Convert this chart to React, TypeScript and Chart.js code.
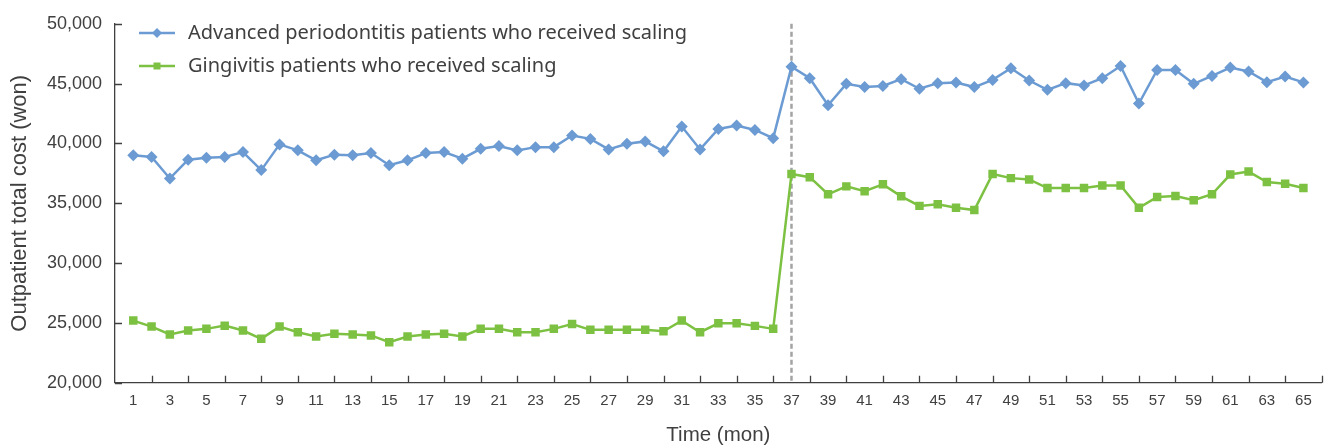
import React, { useEffect, useRef } from 'react';
import { Chart, registerables } from 'chart.js';

Chart.register(...registerables);

const months = [
  1, 2, 3, 4, 5, 6, 7, 8, 9, 10, 11, 12, 13, 14, 15, 16, 17, 18, 19, 20, 21, 22,
  23, 24, 25, 26, 27, 28, 29, 30, 31, 32, 33, 34, 35, 36, 37, 38, 39, 40, 41, 42,
  43, 44, 45, 46, 47, 48, 49, 50, 51, 52, 53, 54, 55, 56, 57, 58, 59, 60, 61, 62,
  63, 64, 65,
];

const periodontitisCost = [
  39010, 38870, 37070, 38640, 38810, 38870, 39280, 37770, 39920, 39420, 38590,
  39060, 39010, 39200, 38180, 38590, 39200, 39280, 38730, 39550, 39780, 39420,
  39690, 39690, 40660, 40380, 39500, 39970, 40170, 39340, 41410, 39500, 41210,
  41490, 41130, 40440, 46420, 45450, 43190, 44980, 44710, 44810, 45370, 44570,
  45040, 45100, 44710, 45310, 46280, 45260, 44480, 45040, 44850, 45450, 46470,
  43330, 46140, 46140, 44980, 45640, 46340, 46010, 45120, 45590, 45100,
];

const gingivitisCost = [
  25190, 24690, 24030, 24360, 24500, 24770, 24360, 23670, 24690, 24220, 23860,
  24090, 24030, 23950, 23390, 23860, 24030, 24090, 23860, 24500, 24500, 24220,
  24220, 24500, 24910, 24420, 24420, 24420, 24420, 24300, 25190, 24220, 24960,
  24960, 24750, 24500, 37450, 37180, 35750, 36410, 36000, 36580, 35580, 34780,
  34920, 34620, 34430, 37450, 37100, 36990, 36270, 36270, 36270, 36490, 36490,
  34620, 35530, 35610, 35250, 35750, 37400, 37650, 36770, 36630, 36270,
];

const seriesLabels = [
  'Advanced periodontitis patients who received scaling',
  'Gingivitis patients who received scaling',
];

const xAxisRange = [0, 66];
const yAxisRange = [20000, 50000];
const yStep = 5000;
const interventionMonth = 37;
const xTitle = 'Time (mon)';
const yTitle = 'Outpatient total cost (won)';

const BLUE = '#6b9bd2';
const GREEN = '#7dc142';
const AXIS = '#404040';
const TEXT = '#404040';
const SANS = '"Liberation Sans", Arial, sans-serif';
const PLOT_RIGHT_GAP = 2.3;

const decorPlugin = {
  id: 'decor',
  afterLayout(chart: any) {
    const x = chart.scales.x;
    const targetRight = chart.width - PLOT_RIGHT_GAP;
    x.right = targetRight;
    x.width = targetRight - x.left;
    x.configure();
    chart.chartArea.right = targetRight;
    chart.chartArea.width = targetRight - chart.chartArea.left;
  },
  beforeDatasetsDraw(chart: any) {
    const { ctx, chartArea, scales } = chart;
    const x = scales.x;
    const y = scales.y;
    ctx.save();
    const px = x.getPixelForValue(interventionMonth);
    ctx.strokeStyle = '#a3a3a3';
    ctx.lineWidth = 2.5;
    ctx.setLineDash([5, 3]);
    ctx.beginPath();
    ctx.moveTo(px, chartArea.top);
    ctx.lineTo(px, chartArea.bottom);
    ctx.stroke();
    ctx.setLineDash([]);
    ctx.strokeStyle = AXIS;
    ctx.lineWidth = 1.3;
    ctx.beginPath();
    for (let v = xAxisRange[0] + 2; v <= xAxisRange[1]; v += 2) {
      const tx = Math.round(x.getPixelForValue(v)) + 0.5;
      ctx.moveTo(tx, chartArea.bottom);
      ctx.lineTo(tx, chartArea.bottom - 7);
    }
    for (let v = yAxisRange[0]; v <= yAxisRange[1]; v += yStep) {
      const ty = Math.round(y.getPixelForValue(v)) + 0.5;
      ctx.moveTo(chartArea.left, ty);
      ctx.lineTo(chartArea.left + 7, ty);
    }
    ctx.stroke();
    ctx.restore();
  },
  afterDraw(chart: any) {
    const { ctx } = chart;
    ctx.save();
    const colors = [BLUE, GREEN];
    seriesLabels.forEach((label, i) => {
      const cy = 33 + i * 33;
      ctx.strokeStyle = colors[i];
      ctx.lineWidth = 2.5;
      ctx.beginPath();
      ctx.moveTo(139, cy);
      ctx.lineTo(175, cy);
      ctx.stroke();
      ctx.fillStyle = colors[i];
      ctx.beginPath();
      if (i === 0) {
        const r = 5;
        ctx.moveTo(157, cy - r);
        ctx.lineTo(157 + r, cy);
        ctx.lineTo(157, cy + r);
        ctx.lineTo(157 - r, cy);
        ctx.closePath();
      } else {
        ctx.rect(157 - 3.5, cy - 3.5, 7, 7);
      }
      ctx.fill();
      ctx.fillStyle = TEXT;
      ctx.font = '20px "Noto Sans", sans-serif';
      ctx.textBaseline = 'middle';
      ctx.textAlign = 'left';
      ctx.fillText(label, 188, cy);
    });
    ctx.restore();
  },
};

export default function App() {
  const canvasRef = useRef<HTMLCanvasElement | null>(null);

  useEffect(() => {
    document.body.style.margin = '0';
    const canvas = canvasRef.current;
    if (!canvas) return;
    const chart = new Chart(canvas, {
      type: 'line',
      data: {
        datasets: [
          {
            label: seriesLabels[0],
            data: months.map((m, i) => ({ x: m, y: periodontitisCost[i] })),
            borderColor: BLUE,
            backgroundColor: BLUE,
            borderWidth: 2.5,
            pointStyle: 'rectRot',
            pointRadius: 6,
            pointHoverRadius: 6,
            pointBorderWidth: 0,
            tension: 0,
          },
          {
            label: seriesLabels[1],
            data: months.map((m, i) => ({ x: m, y: gingivitisCost[i] })),
            borderColor: GREEN,
            backgroundColor: GREEN,
            borderWidth: 2.5,
            pointStyle: 'rect',
            pointRadius: 6,
            pointHoverRadius: 6,
            pointBorderWidth: 0,
            tension: 0,
          },
        ],
      },
      options: {
        animation: false,
        responsive: false,
        maintainAspectRatio: false,
        events: [],
        layout: { padding: { top: 20, right: PLOT_RIGHT_GAP, left: 0, bottom: 0 } },
        plugins: {
          legend: { display: false },
          tooltip: { enabled: false },
        },
        scales: {
          x: {
            type: 'linear',
            min: xAxisRange[0],
            max: xAxisRange[1],
            afterBuildTicks: (scale: any) => {
              const t = [];
              for (let v = xAxisRange[0]; v <= xAxisRange[1]; v++) t.push({ value: v });
              scale.ticks = t;
            },
            afterFit: (scale: any) => {
              scale.height = 65.3;
              scale.paddingLeft = 0;
              scale.paddingRight = 0;
            },
            grid: { display: false, drawTicks: false },
            border: { display: true, color: AXIS, width: 1.3 },
            ticks: {
              autoSkip: false,
              maxRotation: 0,
              minRotation: 0,
              padding: 9,
              color: TEXT,
              font: { family: SANS, size: 15 },
              callback: (v: any) => (Number(v) % 2 === 1 ? String(v) : ''),
            },
            title: {
              display: true,
              text: xTitle,
              color: TEXT,
              font: { family: SANS, size: 20.5 },
              padding: { top: 0, bottom: 0 },
            },
          },
          y: {
            type: 'linear',
            min: yAxisRange[0],
            max: yAxisRange[1],
            afterFit: (scale: any) => {
              scale.width = 115;
            },
            grid: { display: false, drawTicks: false },
            border: { display: true, color: AXIS, width: 1.3 },
            ticks: {
              stepSize: yStep,
              padding: 13,
              color: TEXT,
              font: { family: SANS, size: 18 },
              callback: (v: any) => Number(v).toLocaleString('en-US'),
            },
            title: {
              display: true,
              text: yTitle,
              color: TEXT,
              font: { family: SANS, size: 22 },
              padding: { top: 7, bottom: 0 },
            },
          },
        },
      },
      plugins: [decorPlugin],
    });
    return () => chart.destroy();
  }, []);

  return (
    <div style={{ width: 1324, height: 448 }}>
      <canvas ref={canvasRef} width={1324} height={448} style={{ display: 'block' }} />
    </div>
  );
}
